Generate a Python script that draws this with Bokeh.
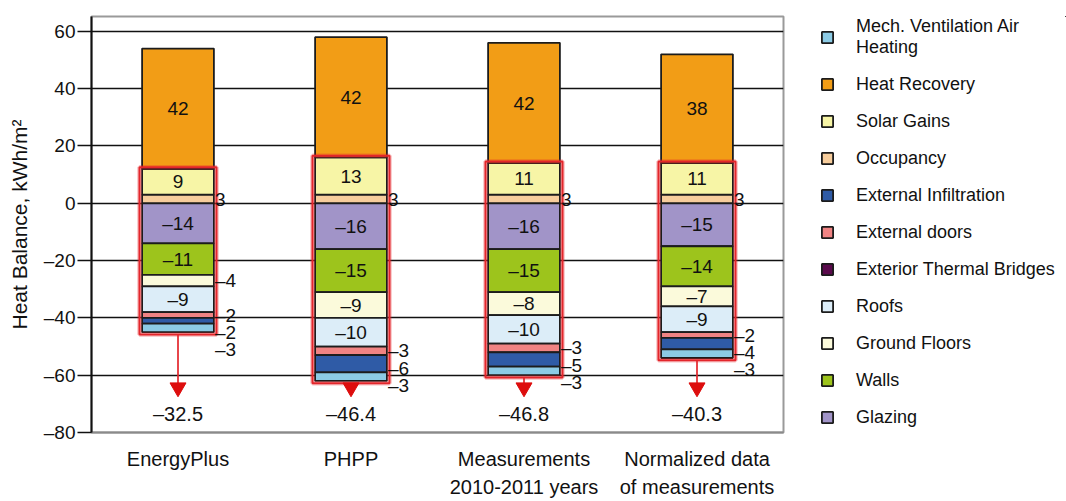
import numpy as np
from bokeh.plotting import figure
from bokeh.layouts import row
from bokeh.models import (ColumnDataSource, FactorRange, FixedTicker, Legend,
                          LegendItem, Range1d)
from bokeh.transform import dodge
from bokeh.core.properties import value
from bokeh.embed import file_html
from bokeh.resources import INLINE

# ---------------- data ----------------
categories = ["EnergyPlus", "PHPP", "Measurements\n2010-2011 years",
              "Normalized data\nof measurements"]

# gains (stacked upward from 0)
occupancy = [3, 3, 3, 3]
solar_gains = [9, 13, 11, 11]
heat_recovery = [42, 42, 42, 38]

# losses (stacked downward from 0)
glazing = [-14, -16, -16, -15]
walls = [-11, -15, -15, -14]
ground_floors = [-4, -9, -8, -7]
roofs = [-9, -10, -10, -9]
external_doors = [-2, -3, -3, -2]
thermal_bridges = [0, 0, 0, 0]
external_infiltration = [-2, -6, -5, -4]
mech_ventilation = [-3, -3, -3, -3]

net_balance = [-32.5, -46.4, -46.8, -40.3]

y_ticks = [-80, -60, -40, -20, 0, 20, 40, 60]

# ---------------- styling ----------------
FONT = "Liberation Sans"
DASH = "\u2013"
colors = {
    "Mech. Ventilation Air\nHeating": "#8ccbe5",
    "Heat Recovery": "#f29d16",
    "Solar Gains": "#f7f5a6",
    "Occupancy": "#f7cd9c",
    "External Infiltration": "#2f5ba6",
    "External doors": "#f08383",
    "Exterior Thermal Bridges": "#5a0a4c",
    "Roofs": "#dcedf8",
    "Ground Floors": "#fbfadb",
    "Walls": "#9dc41c",
    "Glazing": "#a194c8",
}
gain_layers = [("Occupancy", occupancy), ("Solar Gains", solar_gains),
               ("Heat Recovery", heat_recovery)]
loss_layers = [("Glazing", glazing), ("Walls", walls),
               ("Ground Floors", ground_floors), ("Roofs", roofs),
               ("External doors", external_doors),
               ("Exterior Thermal Bridges", thermal_bridges),
               ("External Infiltration", external_infiltration),
               ("Mech. Ventilation Air\nHeating", mech_ventilation)]
legend_order = ["Mech. Ventilation Air\nHeating", "Heat Recovery", "Solar Gains",
                "Occupancy", "External Infiltration", "External doors",
                "Exterior Thermal Bridges", "Roofs", "Ground Floors", "Walls",
                "Glazing"]

BAR_W = 0.415
BOX_W = 0.445
HEAD_Y = -64.3
TOTAL_Y = -73.7
INSIDE_MIN = 7
LABEL_GAP = 6.0
EDGE = "#1c1c1c"

p = figure(x_range=FactorRange(factors=categories, range_padding=0),
           y_range=Range1d(-80, 65.2),
           width=786, height=501, output_backend="svg",
           toolbar_location=None,
           min_border_left=91, min_border_right=3,
           min_border_top=16, min_border_bottom=68)
p.background_fill_color = "white"
p.border_fill_color = "white"
p.outline_line_color = "#9a9a9a"
p.outline_line_width = 2

p.xgrid.grid_line_color = None
p.ygrid.ticker = FixedTicker(ticks=[t for t in y_ticks if t > -80])
p.ygrid.grid_line_color = "#111111"
p.ygrid.grid_line_width = 1.7

yax = p.yaxis[0]
yax.ticker = FixedTicker(ticks=y_ticks)
yax.major_label_overrides = {t: (DASH + str(abs(t)) if t < 0 else str(t)) for t in y_ticks}
yax.axis_line_color = "#111111"
yax.axis_line_width = 2
yax.major_tick_line_color = "#111111"
yax.major_tick_line_width = 1.7
yax.major_tick_out = 14
yax.major_tick_in = 0
yax.minor_tick_line_color = None
yax.major_label_standoff = 2
yax.major_label_text_font = FONT
yax.major_label_text_font_size = "19px"
yax.major_label_text_color = "#111111"
yax.axis_label = "Heat Balance, kWh/m\u00b2"
yax.axis_label_text_font = FONT
yax.axis_label_text_font_size = "21px"
yax.axis_label_text_font_style = "normal"
yax.axis_label_text_color = "#111111"
yax.axis_label_standoff = 10

xax = p.xaxis[0]
xax.axis_line_color = "#8a8a8a"
xax.axis_line_width = 2
xax.major_tick_line_color = None
xax.major_tick_out = 0
xax.major_tick_in = 0
xax.major_label_standoff = 15
xax.major_label_text_font = FONT
xax.major_label_text_font_size = "20px"
xax.major_label_text_line_height = 1.3
xax.major_label_text_color = "#111111"

# ---------------- stacked bars ----------------
inside = {"x": [], "y": [], "text": []}
outside = {"x": [], "y": [], "text": []}

pos_base = np.zeros(len(categories))
for name, vals in gain_layers:
    v = np.array(vals, dtype=float)
    bottom, top = pos_base.copy(), pos_base + v
    p.vbar(x=categories, bottom=bottom, top=top, width=BAR_W,
           fill_color=colors[name], line_color=EDGE, line_width=1.8)
    for i, c in enumerate(categories):
        if vals[i] >= INSIDE_MIN:
            inside["x"].append(c); inside["y"].append((bottom[i] + top[i]) / 2)
            inside["text"].append(str(vals[i]))
        elif vals[i] > 0:
            outside["x"].append(c); outside["y"].append((bottom[i] + top[i]) / 2)
            outside["text"].append(" " + str(vals[i]))
    pos_base = top

neg_base = np.zeros(len(categories))
last_label_y = [None] * len(categories)
for name, vals in loss_layers:
    v = np.array(vals, dtype=float)
    top, bottom = neg_base.copy(), neg_base + v
    p.vbar(x=categories, bottom=bottom, top=top, width=BAR_W,
           fill_color=colors[name], line_color=EDGE, line_width=1.8)
    for i, c in enumerate(categories):
        mid = (bottom[i] + top[i]) / 2
        if vals[i] <= -INSIDE_MIN:
            inside["x"].append(c); inside["y"].append(mid)
            inside["text"].append(DASH + str(abs(vals[i])))
        elif vals[i] < 0:
            y = mid if last_label_y[i] is None else min(mid, last_label_y[i] - LABEL_GAP)
            last_label_y[i] = y
            outside["x"].append(c); outside["y"].append(y)
            outside["text"].append(DASH + str(abs(vals[i])))
    neg_base = bottom

# ---------------- highlight boxes and arrows ----------------
box_top = [o + s + 0.6 for o, s in zip(occupancy, solar_gains)]
box_bottom = list(neg_base - 0.8)
p.vbar(x=categories, bottom=box_bottom, top=box_top, width=BOX_W,
       fill_color=None, line_color="#e3262b", line_width=4.5, line_alpha=0.3)
p.vbar(x=categories, bottom=box_bottom, top=box_top, width=BOX_W,
       fill_color=None, line_color="#e3262b", line_width=2)
p.segment(x0=categories, y0=box_bottom, x1=categories,
          y1=[HEAD_Y] * len(categories), line_color="#e3262b", line_width=2,
          line_alpha=0.85)
p.scatter(x=categories, y=[HEAD_Y] * len(categories), marker="inverted_triangle",
          size=16, fill_color="#dd0d0d", line_color="#dd0d0d")
p.text(x=categories, y=[TOTAL_Y] * len(categories),
       text=[DASH + str(abs(t)) for t in net_balance],
       text_align="center", text_baseline="middle", text_font=value(FONT),
       text_font_size="20px", text_color="#111111")

# ---------------- value labels ----------------
p.text(x="x", y="y", text="text", source=ColumnDataSource(inside),
       text_align="center", text_baseline="middle", text_font=value(FONT),
       text_font_size="19px", text_color="#111111")
p.text(x=dodge("x", BAR_W / 2, range=p.x_range), y="y", text="text",
       source=ColumnDataSource(outside), x_offset=1,
       text_align="left", text_baseline="middle", text_font=value(FONT),
       text_font_size="19px", text_color="#111111")

# ---------------- legend (own plot to the right) ----------------
lf = figure(width=280, height=501, output_backend="svg", toolbar_location=None,
            x_range=Range1d(0, 1), y_range=Range1d(0, 1),
            x_axis_type=None, y_axis_type=None,
            min_border_left=34, min_border_right=0,
            min_border_top=0, min_border_bottom=0)
lf.outline_line_color = None
lf.grid.grid_line_color = None
lf.background_fill_color = "white"
lf.border_fill_color = "white"

items = []
for name in legend_order:
    # swatch renderer only; its single bar lies far outside the visible range
    r = lf.vbar(x=[100], bottom=[100], top=[101], width=0.5,
                fill_color=colors[name], line_color=EDGE, line_width=1.8)
    items.append(LegendItem(label=name, renderers=[r]))

legend = Legend(items=items, location="top_left", padding=0, margin=0,
                spacing=15, glyph_width=14, glyph_height=14, label_height=22,
                label_standoff=22, label_text_font=FONT,
                label_text_font_size="18px", label_text_line_height=1.2,
                label_text_color="#111111",
                border_line_color=None, background_fill_alpha=0)
lf.add_layout(legend, "center")

layout = row(p, lf)
open("out.html", "w").write(file_html(layout, INLINE))
